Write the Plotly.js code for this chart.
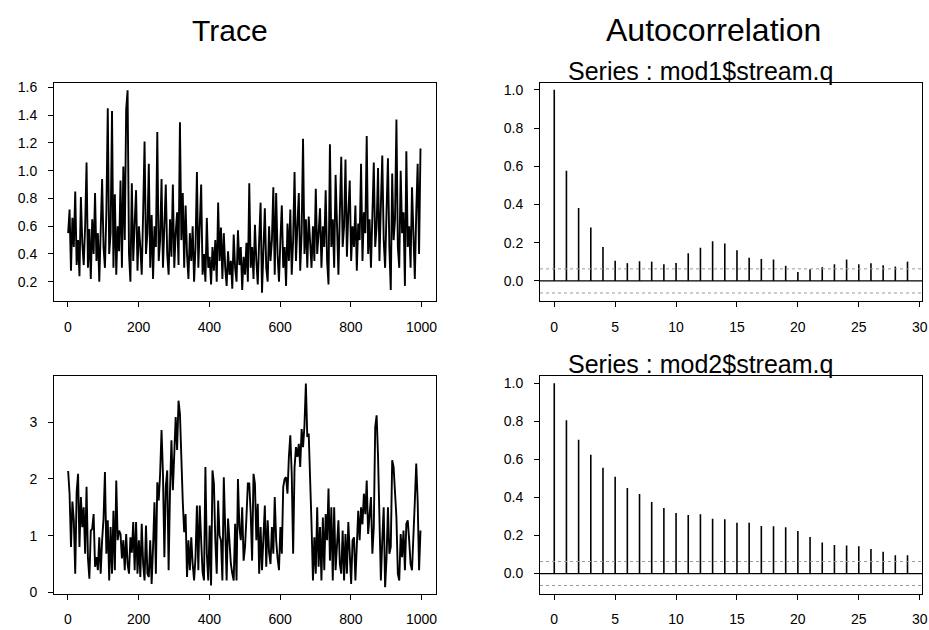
<!DOCTYPE html>
<html>
<head>
<meta charset="utf-8">
<script src="https://cdn.plot.ly/plotly-3.0.1.min.js"></script>
<style>
  html, body { margin: 0; padding: 0; background: #fff; }
  #chart { width: 929px; height: 630px; }
</style>
</head>
<body>
<div id="chart"></div>
<script>
// ---- Data ----
// MCMC trace of mod1$stream.q, one value every 4 iterations (1..997)
const traceMod1 = [
  0.55, 0.72, 0.28, 0.66, 0.45, 0.85, 0.32, 0.5, 0.24, 0.81,
  0.48, 0.32, 0.6, 1.06, 0.3, 0.58, 0.22, 0.65, 0.4, 0.84,
  0.35, 0.55, 0.2, 0.62, 0.94, 0.45, 0.3, 0.7, 1.45, 0.4,
  0.55, 1.43, 0.3, 0.83, 0.25, 0.6, 0.42, 0.93, 0.3, 1.03,
  0.5, 1.44, 1.58, 0.4, 0.2, 0.91, 0.35, 0.62, 0.86, 0.28,
  0.6, 0.45, 0.25, 0.7, 1.21, 0.4, 0.55, 1.05, 0.3, 0.68,
  0.22, 0.6, 0.45, 1.28, 0.35, 0.5, 0.94, 0.3, 0.62, 0.9,
  0.4, 0.25, 0.65, 0.38, 0.9, 0.3, 0.55, 0.7, 0.32, 1.35,
  0.5, 0.84, 0.3, 0.75, 0.4, 0.22, 0.55, 0.35, 0.6, 0.2,
  0.45, 0.99, 0.3, 0.55, 0.9, 0.25, 0.4, 0.2, 0.66, 0.3,
  0.38, 0.18, 0.45, 0.28, 0.5, 0.2, 0.77, 0.35, 0.59, 0.22,
  0.55, 0.3, 0.17, 0.42, 0.25, 0.35, 0.15, 0.54, 0.3, 0.2,
  0.57, 0.32, 0.45, 0.14, 0.38, 0.25, 0.48, 0.2, 0.91, 0.3,
  0.45, 0.22, 0.61, 0.35, 0.18, 0.5, 0.77, 0.12, 0.4, 0.73,
  0.3, 0.2, 0.6, 0.35, 0.5, 0.88, 0.25, 0.84, 0.4, 0.2,
  0.5, 0.75, 0.3, 0.45, 0.17, 0.62, 0.35, 0.72, 0.25, 0.5,
  0.99, 0.35, 0.6, 0.84, 0.28, 0.55, 1.23, 0.4, 0.65, 0.3,
  0.67, 0.45, 0.3, 0.6, 0.35, 0.87, 0.4, 0.55, 0.73, 0.3,
  0.6, 0.45, 0.86, 0.35, 0.18, 1.19, 0.45, 0.65, 0.3, 0.97,
  0.5, 0.25, 0.7, 1.1, 0.45, 0.6, 1.08, 0.38, 0.7, 0.93,
  0.35, 0.6, 0.45, 0.75, 0.28, 0.62, 0.5, 1.05, 0.35, 0.7,
  0.55, 1.25, 0.4, 0.65, 0.3, 0.7, 1.06, 0.45, 0.6, 1.02,
  0.35, 0.75, 1.11, 0.5, 0.3, 0.7, 1.09, 0.45, 0.14, 0.98,
  0.5, 0.65, 1.37, 0.45, 0.3, 1.0, 0.55, 0.7, 0.17, 1.14,
  0.45, 0.6, 0.3, 0.88, 0.5, 0.22, 0.7, 1.05, 0.4, 1.16
];
// MCMC trace of mod2$stream.q, one value every 4 iterations (1..997)
const traceMod2 = [
  2.14, 1.74, 0.8, 1.6, 1.27, 0.33, 1.77, 2.09, 0.8, 1.68,
  1.15, 1.5, 0.68, 1.86, 0.6, 0.24, 1.09, 1.12, 1.38, 0.45,
  0.62, 0.39, 0.97, 0.33, 0.92, 1.3, 2.12, 0.68, 1.27, 0.21,
  1.15, 0.33, 1.44, 0.39, 1.97, 0.92, 1.09, 1.03, 0.6, 0.92,
  0.39, 1.03, 0.5, 0.33, 0.97, 0.7, 1.24, 0.39, 1.24, 0.33,
  0.92, 0.27, 1.21, 0.5, 0.21, 1.18, 0.33, 0.27, 0.92, 0.15,
  0.8, 1.59, 0.33, 1.94, 1.62, 2.09, 2.86, 2.09, 0.62, 1.86,
  2.15, 0.39, 1.8, 2.68, 1.8, 2.4, 3.09, 2.51, 3.38, 3.15,
  2.21, 1.6, 1.06, 1.38, 0.27, 0.92, 0.39, 0.97, 0.5, 0.21,
  0.62, 1.53, 0.39, 1.53, 0.92, 0.35, 0.21, 2.21, 0.68, 0.21,
  1.18, 0.12, 2.15, 1.92, 0.92, 0.33, 1.62, 1.0, 0.92, 0.21,
  2.03, 1.21, 0.21, 1.3, 0.92, 0.5, 0.33, 0.21, 1.21, 0.21,
  2.0, 1.15, 0.92, 1.5, 0.56, 0.8, 1.32, 1.92, 1.92, 1.4,
  0.56, 2.09, 1.92, 0.92, 1.56, 0.33, 1.15, 0.39, 0.97, 1.53,
  0.45, 1.27, 0.7, 0.5, 1.15, 0.68, 1.68, 0.92, 0.6, 0.39,
  1.15, 0.68, 1.86, 2.0, 2.03, 1.74, 2.39, 2.77, 2.09, 0.68,
  2.2, 2.56, 2.39, 2.62, 2.21, 2.88, 2.56, 2.94, 3.68, 2.74,
  2.8, 1.74, 1.2, 0.21, 0.97, 0.33, 1.5, 0.45, 1.15, 0.21,
  1.32, 0.39, 1.38, 0.92, 1.83, 0.56, 1.5, 0.21, 1.5, 0.39,
  0.86, 1.27, 0.5, 0.33, 1.09, 0.21, 1.03, 0.33, 1.24, 0.5,
  0.15, 0.92, 0.97, 0.21, 0.74, 1.44, 0.92, 1.5, 1.2, 1.74,
  1.38, 1.97, 1.03, 1.3, 1.68, 0.68, 1.15, 2.91, 3.12, 2.39,
  1.32, 0.21, 0.92, 1.5, 0.09, 0.6, 1.5, 0.68, 0.8, 2.33,
  2.21, 1.74, 1.32, 0.33, 0.21, 1.03, 0.62, 1.09, 0.39, 1.21,
  1.27, 0.92, 0.5, 0.39, 1.15, 1.6, 2.27, 1.62, 0.39, 1.09
];
const traceStep = 4;     // iterations between stored values
const traceStart = 1;

// Autocorrelation, lags 0..29
const lags = [0,1,2,3,4,5,6,7,8,9,10,11,12,13,14,15,16,17,18,19,20,21,22,23,24,25,26,27,28,29];
const acfMod1 = [1.0, 0.577, 0.381, 0.280, 0.178, 0.105, 0.093, 0.103, 0.101, 0.087,
                 0.094, 0.145, 0.173, 0.208, 0.196, 0.161, 0.121, 0.115, 0.112, 0.079,
                 0.047, 0.061, 0.072, 0.087, 0.112, 0.087, 0.093, 0.082, 0.075, 0.101];
const acfMod2 = [1.0, 0.806, 0.703, 0.624, 0.556, 0.509, 0.449, 0.418, 0.376, 0.344,
                 0.318, 0.308, 0.311, 0.288, 0.285, 0.267, 0.267, 0.250, 0.248, 0.243,
                 0.224, 0.192, 0.163, 0.150, 0.147, 0.143, 0.129, 0.114, 0.096, 0.096];
const confBand = 0.063;

// Tick labels
const traceXTicks = [0, 200, 400, 600, 800, 1000];
const trace1YTicks = [0.2, 0.4, 0.6, 0.8, 1.0, 1.2, 1.4, 1.6];
const trace2YTicks = [0, 1, 2, 3];
const acfXTicks = [0, 5, 10, 15, 20, 25, 30];
const acfYTicks = [0.0, 0.2, 0.4, 0.6, 0.8, 1.0];

const mainTitles = ["Trace", "Autocorrelation"];
const seriesTitles = ["Series : mod1$stream.q", "Series : mod2$stream.q"];

// ---- Build traces ----
const iterIdx = arr => arr.map((_, i) => traceStart + i * traceStep);
function stems(x, y) {
  const xs = [], ys = [];
  x.forEach((k, i) => { xs.push(k, k, null); ys.push(0, y[i], null); });
  return { xs, ys };
}
const s1 = stems(lags, acfMod1);
const s2 = stems(lags, acfMod2);

const lineStyle = { color: '#000', width: 1.9 };
const stemStyle = { color: '#000', width: 1.6 };
const data = [
  { x: iterIdx(traceMod1), y: traceMod1, type: 'scatter', mode: 'lines', line: lineStyle, xaxis: 'x', yaxis: 'y' },
  { x: s1.xs, y: s1.ys, type: 'scatter', mode: 'lines', line: stemStyle, xaxis: 'x2', yaxis: 'y2' },
  { x: iterIdx(traceMod2), y: traceMod2, type: 'scatter', mode: 'lines', line: lineStyle, xaxis: 'x3', yaxis: 'y3' },
  { x: s2.xs, y: s2.ys, type: 'scatter', mode: 'lines', line: stemStyle, xaxis: 'x4', yaxis: 'y4' }
];

const W = 929, H = 630;
const px = v => v / W, py = v => 1 - v / H;
const FONT = 'Liberation Sans, Arial, Helvetica, sans-serif';
const tickFont = { family: FONT, size: 14, color: '#000' };

function ax(domain, range, tickvals, fmt) {
  return {
    domain, range, tickvals, ticktext: tickvals.map(fmt),
    showline: true, linecolor: '#000', linewidth: 1, mirror: true,
    ticks: 'outside', ticklen: 5, tickwidth: 1, tickcolor: '#000',
    showgrid: false, zeroline: false, tickfont: tickFont,
    ticklabelstandoff: 8, fixedrange: true
  };
}
const f1 = v => v.toFixed(1), f0 = v => String(v);
const xL = [px(54), px(435.7)], xR = [px(540), px(922)];
const yT = [py(301), py(82.5)], yB = [py(593.5), py(375.7)];

const layout = {
  width: W, height: H,
  margin: { l: 0, r: 0, t: 0, b: 0 },
  paper_bgcolor: '#fff', plot_bgcolor: '#fff',
  showlegend: false,
  font: { family: FONT, color: '#000' },
  xaxis: Object.assign(ax(xL, [-39, 1040], traceXTicks, f0), { anchor: 'y' }),
  yaxis: Object.assign(ax(yT, [0.061, 1.636], trace1YTicks, f1), { anchor: 'x' }),
  xaxis2: Object.assign(ax(xR, [-1.17, 30.19], acfXTicks, f0), { anchor: 'y2' }),
  yaxis2: Object.assign(ax(yT, [-0.105, 1.038], acfYTicks, f1), { anchor: 'x2' }),
  xaxis3: Object.assign(ax(xL, [-39, 1040], traceXTicks, f0), { anchor: 'y3' }),
  yaxis3: Object.assign(ax(yB, [-0.02, 3.82], trace2YTicks, f0), { anchor: 'x3' }),
  xaxis4: Object.assign(ax(xR, [-1.17, 30.19], acfXTicks, f0), { anchor: 'y4' }),
  yaxis4: Object.assign(ax(yB, [-0.105, 1.04], acfYTicks, f1), { anchor: 'x4' }),
  shapes: [],
  annotations: [
    { text: mainTitles[0], xref: 'paper', yref: 'paper', x: px(230), y: py(30), xanchor: 'center', yanchor: 'middle', showarrow: false, font: { family: FONT, size: 30, color: '#000' } },
    { text: mainTitles[1], xref: 'paper', yref: 'paper', x: px(713), y: py(30), xanchor: 'center', yanchor: 'middle', showarrow: false, font: { family: FONT, size: 32, color: '#000' } },
    { text: seriesTitles[0], xref: 'paper', yref: 'paper', x: px(700), y: py(71), xanchor: 'center', yanchor: 'middle', showarrow: false, font: { family: FONT, size: 25, color: '#000' } },
    { text: seriesTitles[1], xref: 'paper', yref: 'paper', x: px(700), y: py(364), xanchor: 'center', yanchor: 'middle', showarrow: false, font: { family: FONT, size: 25, color: '#000' } }
  ]
};

[['x2', 'y2'], ['x4', 'y4']].forEach(([xa, ya]) => {
  layout.shapes.push({ type: 'line', xref: xa + ' domain', x0: 0, x1: 1, yref: ya, y0: 0, y1: 0, line: { color: '#000', width: 1.3 } });
  [confBand, -confBand].forEach(c => layout.shapes.push({
    type: 'line', xref: xa + ' domain', x0: 0, x1: 1, yref: ya, y0: c, y1: c,
    line: { color: '#999', width: 1, dash: 'dot' }
  }));
});

Plotly.newPlot('chart', data, layout, { staticPlot: true, displayModeBar: false });
</script>
</body>
</html>
